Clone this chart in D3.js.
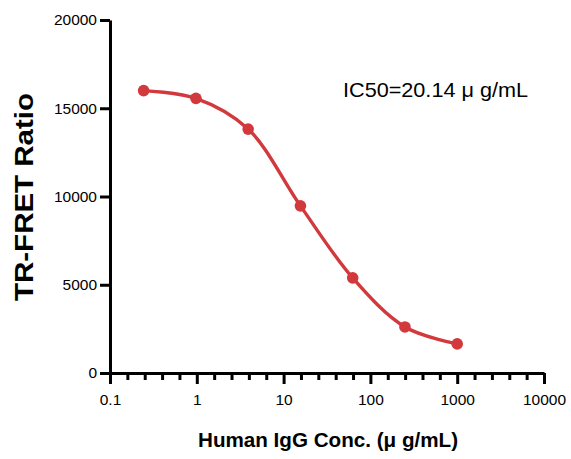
<!DOCTYPE html>
<meta charset="utf-8">
<style>
body {
	margin: 0;
	background-color: white;
}
svg text {
	font-family: "Liberation Sans", Arial, sans-serif;
	fill: black;
}
</style>
<html>
	<head>
		<title>TR-FRET Ratio vs Human IgG Conc.</title>
		<script src="https://cdn.jsdelivr.net/npm/d3@7"></script>
	</head>
	<body>
		<svg id="svgchart"></svg>
<script>
'use strict'

// concentrations (ug/mL) and measured ratios
const concentrations = [0.244, 0.977, 3.906, 15.625, 62.5, 250, 1000]
const ratios         = [16000, 15560, 13820, 9470, 5390, 2610, 1650]
const xTickValues    = [0.1, 1, 10, 100, 1000, 10000]
const yTickValues    = [0, 5000, 10000, 15000, 20000]

const chartWidth  = 571,
      chartHeight = 459,
      red         = "#d2393c"

const svg = d3.select("#svgchart")
svg.attr("width", chartWidth)
   .attr("height", chartHeight)

const x = d3.scaleLog().domain([0.1, 10000]).range([110, 544])
const y = d3.scaleLinear().domain([0, 20000]).range([373, 20])

// minor ticks: four per decade, evenly spaced on the log axis (GraphPad style)
const minorTicks = []
for (let k = -1; k < 4; k++) {
	for (let j = 1; j < 5; j++) minorTicks.push(Math.pow(10, k + j / 5))
}

// thick black axis lines and ticks
function styleAxis(g) {
	g.selectAll("path, line")
		.style("stroke", "black")
		.style("stroke-width", "3px")
}

svg.append("g")
	.attr("transform", "translate(0," + y(0) + ")")
	.call(d3.axisBottom(x).tickValues(minorTicks).tickSize(7).tickFormat(""))
	.call(g => g.select(".domain").remove())
	.call(styleAxis)

svg.append("g")
	.attr("transform", "translate(0," + y(0) + ")")
	.call(d3.axisBottom(x).tickValues(xTickValues).tickSizeInner(11).tickSizeOuter(0)
		.tickPadding(10).tickFormat(d => d))
	.call(styleAxis)
	.call(g => g.selectAll("text").style("font-size", "15.5px"))

svg.append("g")
	.attr("transform", "translate(" + x(0.1) + ",0)")
	.call(d3.axisLeft(y).tickValues(yTickValues).tickSizeInner(10).tickSizeOuter(0)
		.tickPadding(3).tickFormat(d3.format("d")))
	.call(styleAxis)
	.call(g => g.selectAll("text").style("font-size", "15.5px"))

// axis titles
svg.append("text")
	.attr("transform", "translate(33,197) rotate(-90)")
	.attr("text-anchor", "middle")
	.attr("textLength", 208)
	.attr("lengthAdjust", "spacingAndGlyphs")
	.style("font-size", "26px")
	.style("font-weight", "bold")
	.text("TR-FRET Ratio")

svg.append("text")
	.attr("x", 328)
	.attr("y", 447)
	.attr("text-anchor", "middle")
	.attr("textLength", 260)
	.attr("lengthAdjust", "spacingAndGlyphs")
	.style("font-size", "20px")
	.style("font-weight", "bold")
	.text("Human IgG Conc. (\u03bc g/mL)")

svg.append("text")
	.attr("x", 343)
	.attr("y", 97)
	.attr("textLength", 185)
	.attr("lengthAdjust", "spacingAndGlyphs")
	.style("font-size", "21px")
	.text("IC50=20.14 \u03bc g/mL")

// fitted curve through the points
const points = concentrations.map((c, i) => [c, ratios[i]])
const line = d3.line()
	.x(d => x(d[0]))
	.y(d => y(d[1]))
	.curve(d3.curveCatmullRom.alpha(0.5))

svg.append("path")
	.datum(points)
	.attr("d", line)
	.attr("fill", "none")
	.attr("stroke", red)
	.attr("stroke-width", 3.4)

svg.append("g")
	.selectAll("circle")
	.data(points)
	.enter().append("circle")
		.attr("cx", d => x(d[0]))
		.attr("cy", d => y(d[1]))
		.attr("r", 5.8)
		.attr("fill", red)
</script>
	</body>
</html>
